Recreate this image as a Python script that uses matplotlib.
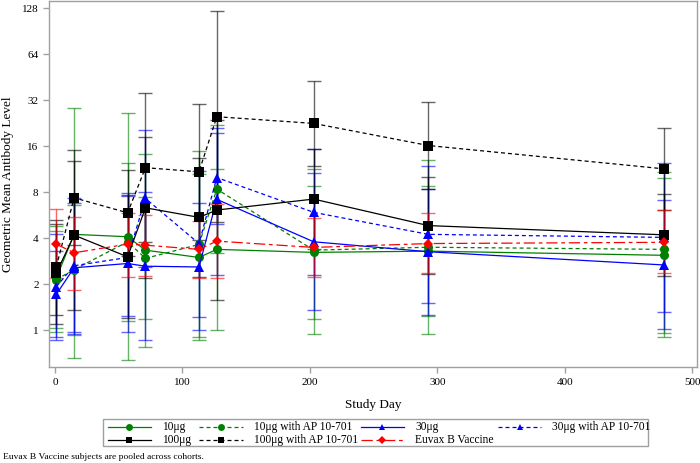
import numpy as np
import matplotlib
matplotlib.use('Agg')
import matplotlib.pyplot as plt
from matplotlib.lines import Line2D
from matplotlib.patches import Rectangle
from matplotlib.ticker import FixedLocator, NullLocator

plt.rcParams['font.family'] = ['Liberation Serif', 'DejaVu Serif']

# study days of each visit
days = [1, 15, 57, 71, 113, 127, 203, 293, 478]

# geometric mean titres and 95% CI bounds
gmt_10 = [2.2, 4.25, 4.1, 3.35, 3.0, 3.39, 3.24, 3.3, 3.1]
lo_10 = [1.04, 0.66, 0.64, 0.78, 0.86, 1.01, 1.19, 1.24, 0.96]
hi_10 = [4.8, 28.4, 26.3, 14.3, 10.5, 11.4, 8.85, 8.8, 10.0]

gmt_10ap = [2.15, 2.5, 3.8, 2.96, 3.65, 8.4, 3.35, 3.5, 3.39]
lo_10ap = [0.98, 0.94, 1.16, 1.18, 0.9, 3.2, 0.95, 0.95, 0.91]
hi_10ap = [4.5, 6.6, 12.5, 7.5, 14.9, 22.0, 11.3, 13.0, 10.8]

gmt_30 = [1.72, 2.57, 2.74, 2.63, 2.6, 7.2, 3.8, 3.27, 2.68]
lo_30 = [0.91, 0.97, 0.98, 0.86, 1.0, 2.32, 1.36, 1.27, 1.02]
hi_30 = [3.3, 6.8, 7.6, 8.1, 6.8, 21.0, 10.7, 8.4, 7.1]

gmt_30ap = [1.93, 2.65, 3.0, 7.3, 3.7, 10.0, 5.92, 4.25, 4.06]
lo_30ap = [0.87, 0.95, 1.24, 2.6, 1.23, 5.0, 2.3, 1.52, 1.32]
hi_30ap = [4.25, 7.4, 7.97, 20.6, 11.1, 19.6, 15.3, 11.9, 12.5]

gmt_100 = [2.37, 4.2, 3.03, 6.34, 5.49, 6.13, 7.23, 4.85, 4.22]
lo_100 = [1.1, 1.37, 1.2, 2.19, 2.23, 1.58, 3.4, 2.33, 2.27]
hi_100 = [5.27, 12.8, 7.7, 18.4, 13.5, 23.8, 15.3, 10.1, 7.8]

gmt_100ap = [2.6, 7.37, 5.88, 11.6, 10.9, 25.0, 22.6, 16.2, 11.4]
lo_100ap = [1.27, 3.6, 3.08, 3.78, 3.9, 5.1, 11.9, 8.4, 6.1]
hi_100ap = [4.94, 15.1, 11.2, 35.6, 30.5, 123, 43, 31, 21]

gmt_euv = [3.67, 3.22, 3.67, 3.61, 3.39, 3.84, 3.49, 3.7, 3.77]
lo_euv = [2.2, 1.85, 2.24, 2.27, 2.2, 2.19, 2.25, 2.36, 2.38]
hi_euv = [6.2, 5.5, 5.9, 5.7, 5.2, 6.7, 5.4, 5.9, 6.1]

GREEN = '#008000'
BLUE = '#0000ff'
BLACK = '#000000'
RED = '#ff0000'
DASH = (0, (3.2, 2.4))
DASHDOT = (0, (9, 3, 3, 3))

series = [
    ('10μg', gmt_10, lo_10, hi_10, GREEN, 'o', '-'),
    ('10μg with AP 10-701', gmt_10ap, lo_10ap, hi_10ap, GREEN, 'o', DASH),
    ('30μg', gmt_30, lo_30, hi_30, BLUE, '^', '-'),
    ('30μg with AP 10-701', gmt_30ap, lo_30ap, hi_30ap, BLUE, '^', DASH),
    ('100μg', gmt_100, lo_100, hi_100, BLACK, 's', '-'),
    ('100μg with AP 10-701', gmt_100ap, lo_100ap, hi_100ap, BLACK, 's', DASH),
    ('Euvax B Vaccine', gmt_euv, lo_euv, hi_euv, RED, 'D', DASHDOT),
]

W, H = 700, 463
fig = plt.figure(figsize=(W / 100, H / 100), dpi=100)
ax = fig.add_axes([0.07, 0.207, 0.926, 0.791])

for label, g, lo, hi, col, mk, ls in series:
    g = np.array(g)
    err = np.vstack([g - np.array(lo), np.array(hi) - g])
    ax.errorbar(days, g, yerr=err, fmt='none', ecolor=col, alpha=0.6,
                elinewidth=1.0, capsize=5, capthick=1.0, zorder=2)
    ms = 5.3 if mk == 'D' else 6.5
    ax.plot(days, g, color=col, linestyle=ls, linewidth=0.9,
            marker=mk, markersize=ms, markeredgewidth=0, zorder=3, label=label)

ax.set_yscale('log', base=2)
ax.set_ylim(0.575, 143)
ax.set_xlim(-4.7, 504)
ax.yaxis.set_major_locator(FixedLocator([1, 2, 4, 8, 16, 32, 64, 128]))
ax.yaxis.set_minor_locator(NullLocator())
ax.set_yticklabels(['1', '2', '4', '8', '16', '32', '64', '128'])
ax.set_xticks([0, 100, 200, 300, 400, 500])

for sp in ax.spines.values():
    sp.set_color('#a0a0a0')
    sp.set_linewidth(1.0)
ax.tick_params(axis='both', colors='#a0a0a0', labelcolor='black',
               labelsize=8, length=4, width=1.0, direction='out')

ax.set_xlabel('Study Day', fontsize=9.5, labelpad=9)
ax.set_ylabel('Geometric Mean Antibody Level', fontsize=9.5, labelpad=6)

# legend laid out by hand (row-wise, SAS style), positions in pixels
def fx(px):
    return px / W

def fy(py):
    return 1 - py / H

fig.patches.append(Rectangle((fx(103), fy(446)), fx(648) - fx(103), fy(419) - fy(446),
                             transform=fig.transFigure, fill=False,
                             edgecolor='#a0a0a0', linewidth=1.0))
col_x = [107.6, 199.5, 361, 498]
row_y = [427, 440]
slots = [(0, 0), (0, 1), (0, 2), (0, 3), (1, 0), (1, 1), (1, 2)]
leg_ms = {'o': 5.0, '^': 5.0, 's': 4.5, 'D': 4.0}
for (r, c), (label, g, lo, hi, col, mk, ls) in zip(slots, series):
    x0, y = col_x[c], row_y[r]
    fig.add_artist(Line2D([fx(x0), fx(x0 + 43)], [fy(y), fy(y)], transform=fig.transFigure,
                          color=col, linestyle=ls, linewidth=0.9))
    fig.add_artist(Line2D([fx(x0 + 21.5)], [fy(y)], transform=fig.transFigure,
                          color=col, marker=mk, markersize=leg_ms[mk],
                          markeredgewidth=0, linestyle='none'))
    fig.text(fx(x0 + 54), fy(y), label, fontsize=8.3, ha='left', va='center')

fig.text(3 / W, fy(457), 'Euvax B Vaccine subjects are pooled across cohorts.',
         fontsize=6.8, ha='left', va='center')

fig.savefig('out.png', dpi=100)
